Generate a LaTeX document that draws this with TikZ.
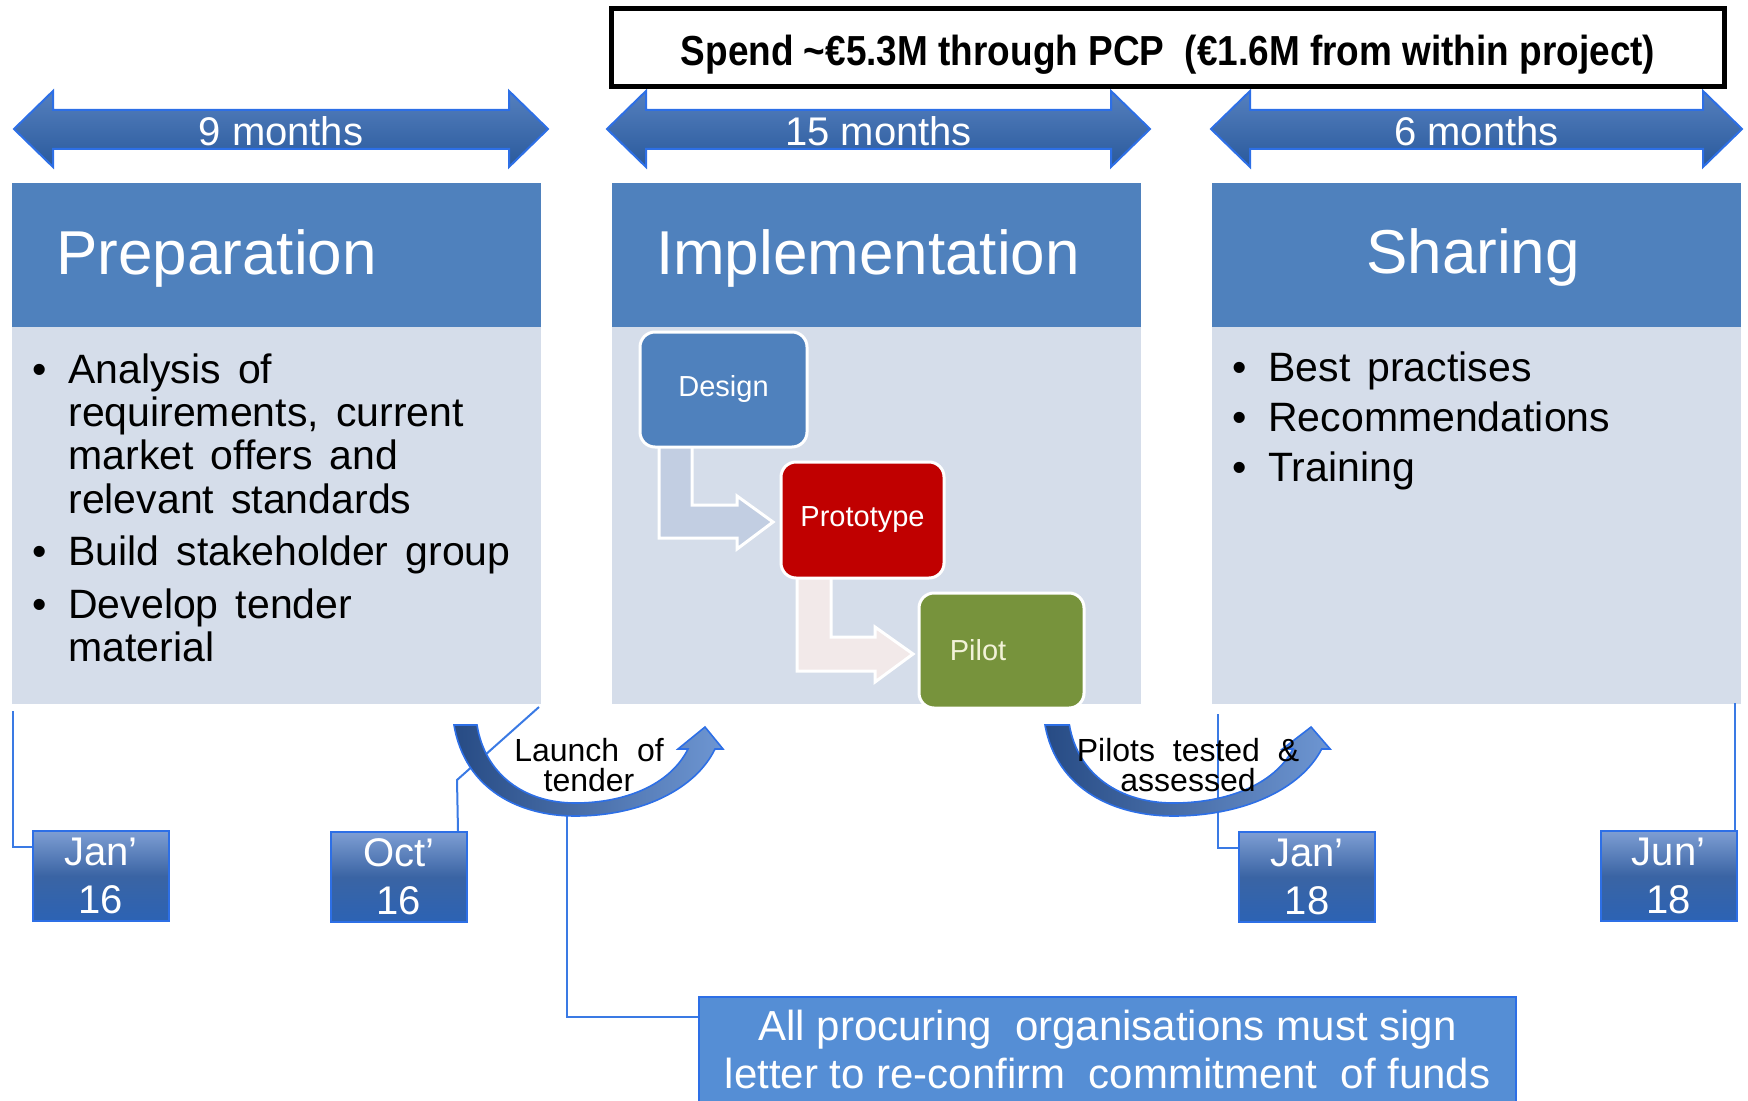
\documentclass[tikz,border=0pt]{standalone}
\usepackage{fontspec}
\setmainfont{Liberation Sans}
\newfontfamily\topfont{Liberation Sans}[FakeStretch=0.88]
\usetikzlibrary{calc}
\definecolor{hdr}{HTML}{4F81BD}
\definecolor{bdy}{HTML}{D5DDEA}
\definecolor{arrtop}{HTML}{5580BE}
\definecolor{arrbot}{HTML}{2A5A9C}
\definecolor{glow}{HTML}{2D6FE6}
\definecolor{conn}{HTML}{3A7AE4}
\definecolor{notefill}{HTML}{558ED5}
\definecolor{dgreen}{HTML}{77933C}
\definecolor{dred}{HTML}{C00000}
\definecolor{bentA}{HTML}{C2CEE2}
\definecolor{bentB}{HTML}{F2E9E9}
\definecolor{pilottxt}{HTML}{F2F2D8}
\definecolor{datetop}{HTML}{7E9ED3}
\definecolor{datemid}{HTML}{3A64A4}
\definecolor{datebot}{HTML}{2C63B4}
\definecolor{arcleft}{HTML}{274B84}
\definecolor{arcright}{HTML}{6E96D2}
\newcommand{\mybul}{\makebox[18pt][l]{\textbullet}}
\newcommand{\myarc}[1]{\path[#1] (0,725) .. controls (11,790) and (66,816) .. (121,816) .. controls (186,816) and (241,790) .. (261,749) -- (269,749) -- (251,727) -- (224,749) -- (234,749) .. controls (216,785) and (171,803) .. (121,803) .. controls (71,803) and (31,775) .. (23,725) -- cycle;}
\newcommand{\dblarr}[4]{%
  \path[bigarrow] (#1,129) -- ({#1+39},91) -- ({#1+39},110) -- ({#2-39},110) -- ({#2-39},91) -- (#2,129) -- ({#2-39},167) -- ({#2-39},149) -- ({#1+39},149) -- ({#1+39},167) -- cycle;
  \node[monthtxt] (#3) at ({(#1+#2)/2},131) {#4};}
\begin{document}
\begin{tikzpicture}[x=0.5pt,y=-0.5pt,
 hdrbox/.style={fill=hdr, inner sep=0, minimum width=264.5pt, minimum height=72pt},
 bodybox/.style={fill=bdy, inner sep=0, minimum width=264.5pt, minimum height=188.5pt},
 hdrtxt/.style={text=white, font=\fontsize{31}{36}\selectfont, inner sep=0},
 monthtxt/.style={text=white, font=\fontsize{20}{24}\selectfont, inner sep=0},
 bigarrow/.style={top color=arrtop, bottom color=arrbot, draw=glow, line width=1pt},
 stepbox/.style={draw=white, line width=1.5pt, rounded corners=7.5pt, inner sep=0, text=white, font=\fontsize{14.5}{17}\selectfont, minimum width=82pt, minimum height=56pt},
 bentarrow/.style={draw=white, line width=1.5pt},
 datebox/.style={top color=datetop, bottom color=datebot, middle color=datemid, draw=glow, line width=1pt, minimum width=68pt, minimum height=45pt, inner sep=0, align=center, text=white, font=\fontsize{20}{24}\selectfont},
 connline/.style={draw=conn, line width=1pt},
 curvetxt/.style={align=center, font=\fontsize{16}{15}\selectfont, inner sep=0},
 listtxt/.style={anchor=base west, inner sep=0, font={\fontsize{20.5}{21.7}\selectfont\spaceskip=1.5\fontdimen2\font\relax}},
 arcshape/.style={left color=arcleft, right color=arcright, draw=glow, line width=0.8pt},
]
\useasboundingbox (0,0) rectangle (1748,1101);

% duration arrows
\dblarr{14}{548}{m9}{9 months}
\dblarr{607}{1150}{m15}{15 months}
\dblarr{1211}{1742}{m6}{6 months}

% top box
\node[draw=black, fill=white, line width=2.5pt, inner sep=0, minimum width=556.5pt, minimum height=39pt] (spend) at (1168,47.5) {};
\node[anchor=base, inner sep=0, font=\topfont\bfseries\fontsize{21}{24}\selectfont] (spendtxt) at (1168,66) {Spend \textasciitilde€5.3M through PCP\ \ (€1.6M from within project)};

% phase boxes
\node[hdrbox] (prephead) at (276.5,255) {};
\node[bodybox] (prepbody) at (276.5,515.5) {};
\node[hdrbox] (impthead) at (876.5,255) {};
\node[bodybox] (imptbody) at (876.5,515.5) {};
\node[hdrbox] (sharhead) at (1476.5,255) {};
\node[bodybox] (sharbody) at (1476.5,515.5) {};

\node[hdrtxt, anchor=base west] (preptitle) at (56,275) {Preparation};
\node[hdrtxt, anchor=base] (impttitle) at (868,275) {Implementation};
\node[hdrtxt, anchor=base] (shartitle) at (1473,274) {Sharing};

% lists
\node[listtxt] (preplist) at (32,383) {\begin{tabular}[t]{@{}l@{}l@{}}
\mybul & Analysis of\\
 & requirements, current\\
 & market offers and\\
 & relevant standards\\[4.5pt]
\mybul & Build stakeholder group\\[4.5pt]
\mybul & Develop tender\\
 & material
\end{tabular}};
\node[listtxt] (sharlist) at (1232,381) {\begin{tabular}[t]{@{}l@{}l@{}}
\mybul & Best practises\\[3.5pt]
\mybul & Recommendations\\[3.5pt]
\mybul & Training
\end{tabular}};

% bent arrows
\path[bentarrow, fill=bentA] (659,445) -- (692,445) -- (692,505) -- (737,505) -- (737,496) -- (773,522) -- (737,549) -- (737,538) -- (659,538) -- cycle;
\path[bentarrow, fill=bentB] (797,576) -- (831,576) -- (831,637) -- (875,637) -- (875,627) -- (913,654) -- (875,682) -- (875,671) -- (797,671) -- cycle;

% step boxes
\node[stepbox, fill=hdr, minimum width=83.5pt, minimum height=57.5pt] (design) at (723.5,389.5) {Design};
\node[stepbox, fill=dred, minimum width=81.5pt, minimum height=58pt] (proto) at (862.5,520) {Prototype};
\node[stepbox, fill=dgreen, minimum width=82.5pt, minimum height=57.5pt] (pilot) at (1001.5,650.5) {};
\node[inner sep=0, text=pilottxt, font=\fontsize{14.5}{17}\selectfont] (pilottext) at (978,650) {Pilot};

% connectors
\coordinate (prepbl) at (13,711);
\coordinate (prepbr) at (539,707);
\coordinate (bend) at (457,780);
\coordinate (launchbot) at (567,816);
\coordinate (sharbl) at (1218,714);
\coordinate (sharbr) at (1735,703);

\node[datebox] (jan16) at (101,876) {Jan’\\16};
\node[datebox] (oct16) at (399,877) {Oct’\\16};
\node[datebox] (jan18) at (1307,877) {Jan’\\18};
\node[datebox] (jun18) at (1668.5,876) {Jun’\\18};

\node[fill=notefill, draw=glow, line width=1pt, inner sep=0, minimum width=408.5pt, minimum height=140pt] (note) at (1107.5,1137) {};
\node[inner sep=0, align=center, text=white, font=\fontsize{21}{24}\selectfont] (notetxt) at (1107.5,1049) {All procuring\ \ organisations must sign\\letter to re-confirm\ \ commitment\ \ of funds};

\draw[connline] (prepbl) |- ($(jan16.north west)+(0,17)$);
\draw[connline] (prepbr) -- (bend) -- ($(oct16.north east)+(-10,0)$);
\draw[connline] (launchbot) |- ($(note.north west)+(0,21)$);
\draw[connline] (sharbl) |- ($(jan18.north west)+(0,17)$);
\draw[connline] (sharbr) -- (sharbr |- jun18.north);

% curved arrows
\begin{scope}[shift={(454,0)}]
\myarc{arcshape}
\end{scope}
\begin{scope}[shift={(1045,0)}, xscale=1.06]
\myarc{arcshape}
\end{scope}
\node[curvetxt] (launchtxt) at (589,765) {Launch\ \ of\\tender};
\node[curvetxt] (pilotstxt) at (1188,765.5) {Pilots\ \ tested\ \ \&\\assessed};
\end{tikzpicture}
\end{document}
